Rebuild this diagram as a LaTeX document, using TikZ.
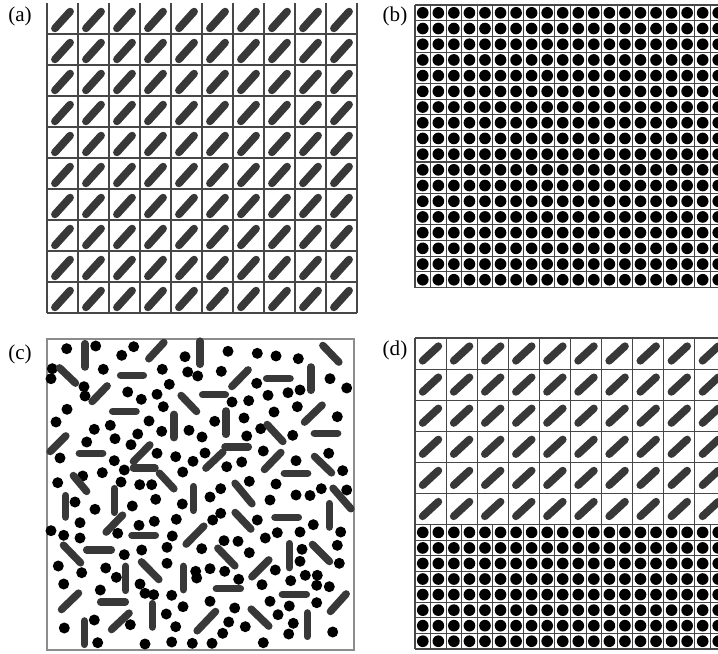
\documentclass[tikz,border=0pt]{standalone}
\usepackage{fontspec}
\setmainfont{Liberation Serif}
\tikzstyle{cellline} = [draw=black!72, line width=0.32mm]
\tikzstyle{framec} = [draw=black!45, line width=0.35mm]
\tikzstyle{rodA} = [draw=black!78, line width=2.3mm, line cap=round]
\tikzstyle{rodC} = [draw=black!78, line width=2.25mm, line cap=round, shorten <=0.5mm, shorten >=0.5mm]
\tikzstyle{bead} = [fill=black]
\tikzstyle{panellabel} = [font=\fontsize{18}{20}\selectfont, inner sep=0pt]

\begin{document}
\begin{tikzpicture}[x=0.3mm, y=-0.3mm]
  \useasboundingbox (0,0) rectangle (718,654);
  \clip (0,0) rectangle (718,654);

  % (a) aligned rods
  \foreach \i in {0,...,10} \draw[cellline] ({47+31*\i},3) -- ({47+31*\i},313);
  \foreach \j in {1,...,10} \draw[cellline] (47,{3+31*\j}) -- (357,{3+31*\j});
  \foreach \i in {0,...,9}
    \foreach \j in {0,...,9}
      \draw[rodA] ({62.5+31*\i-7.6},{20+31*\j+8.4}) -- ++(15.2,-16.8);

  % (b) square lattice of spheres
  \foreach \i in {0,...,20} \draw[cellline] ({415+15.55*\i},5) -- ({415+15.55*\i},{5+15.7*18});
  \foreach \j in {0,...,18} \draw[cellline] (415,{5+15.7*\j}) -- (726,{5+15.7*\j});
  \foreach \i in {0,...,19}
    \foreach \j in {0,...,17}
      \fill[bead] ({415+15.55*\i+7.78},{5+15.7*\j+7.85}) circle (1.75mm);

  % (c) disordered mixture
  \draw[framec] (47,339) rectangle (354,650);
  \foreach \x/\y in {66.7/348.7, 95.7/346, 121.7/355.3, 133.7/346.7, 185/356.7, 52.3/368.7, 51/378.7,
      103.3/369.3, 162.3/369.3, 187.7/372, 197.7/376, 169.3/384.3, 84/386.7, 85/396, 127.7/392,
      141.3/399.3, 157/394.3, 163.3/406.7, 67/409.3, 56/422, 149/421, 110.3/425.3, 94.3/429.3,
      137.7/434, 161.7/431.3, 189/430.3, 202/437, 115/438.7, 86.7/442, 131/444.7, 60/458,
      114.3/460.7, 157/453.3, 175.7/456.7, 193/461.3, 205/453, 124.3/470, 102.3/472.7, 82.7/476,
      182.7/472, 57.7/482.7, 121/482, 139.7/484.7, 151.7/484.7,
      228/351.3, 257.3/353.3, 276/356, 298.3/358.7, 221.3/371.3, 256.7/383.3, 330/378.7,
      346.7/388, 268/395.3, 288/392.7, 300/390, 232/402, 248.7/400.7, 297.3/406.7, 274/412,
      214.7/421.3, 244/418, 337.3/416.7, 260.7/428.7, 246.7/436, 292.7/435.3, 263.3/451,
      328.7/453.3, 226.7/466.7, 241.7/462, 296/460.7, 342.7/470.7, 249.3/481.3, 276/484,
      220.7/488.7, 296/495, 310/495.5, 321.3/488.7, 346.7/490,
      75/502, 95/509.3, 132.3/506, 155.7/499.3, 182.3/504, 51/530.7, 63.7/535.3, 80/522.7,
      80/538, 139/525.3, 154.3/521.3, 176.3/519.3, 117.7/533.3, 172.3/536, 167/547.3,
      201.7/548.7, 124.3/554.7, 141.7/550, 58.3/566, 81.7/572.7, 105.7/568, 116.3/577.3,
      167/563.3, 195.7/571.3, 196.7/578, 63.7/584, 100.3/590, 140/584, 145/593.3, 153.7/594.7,
      171.7/595.3, 183/606.7, 166.3/614, 94.3/620, 130.3/624.7, 175.7/626.7, 64.3/628,
      97.7/642.7, 145/644, 171.7/642, 192.3/643.3,
      210/497, 220.7/513.3, 212.7/520, 270/500, 257.3/520, 265.3/538, 277.3/532.7, 313.3/524.7,
      300/532, 340.7/532, 224/540.7, 238/541.3, 249.3/552.7, 302/549.3, 337.3/545.3, 300/561.3,
      339.3/563.3, 210/568.7, 224.7/571.3, 238.7/579.3, 275.3/570, 262/584.7, 290.7/580.7,
      305.3/575.3, 317.3/575.3, 316.7/585.3, 329.3/586.7, 210/601.3, 270/601.3, 289.3/606,
      316.7/602.7, 234.7/608, 278/614.7, 228.7/622, 245.3/626.7, 293.3/623.3, 288.7/634,
      222.7/633.3, 332.7/632, 212/643.3, 263.3/642.7}
    \fill[bead] (\x,\y) circle (1.65mm);
  \foreach \xa/\ya/\xb/\yb in {85/342/85/368.7, 147.7/360/165/341.3, 200/339.5/200/366,
      58.3/366.7/76.7/384.3, 119/375.3/145/375.3, 91/402.7/108.3/384.7, 180/394.3/197.7/412.7,
      201/394.7/227/394.7, 111/411.3/137.7/411.3, 174/412.7/174/439.3, 49/452.7/67/434.7,
      77.7/453.3/104.3/453.3, 132.3/462.7/151/443.7, 131.7/468/156.7/468, 158.3/472/175/490,
      72.3/474.3/87.7/492.7, 114.3/487/114.3/514, 193.5/485/193.5/512,
      321.7/344.3/340/363.3, 230.7/387.7/249.3/368.7, 265/378.7/291.7/378.7, 311/365.3/311/392,
      303.3/423.3/323.3/404, 226/409.3/226/436, 266/423.3/284/442.7, 312.7/433.3/339.3/433.3,
      223.3/447/250/447, 204.7/469.3/224/451, 263.3/470.7/282/451.3, 313.3/455.3/332.7/474,
      282.7/473.3/309.3/473.3, 234/482/253/505, 332/487/352/510,
      65.7/494/65.7/518.7, 105/533.3/123.7/514, 130.3/535.3/157/535.3, 185/545.3/205/525,
      62.3/544/81.7/564, 85/550/113/550, 125.7/564.7/125.7/592, 140.3/560.7/160/580.7,
      183.3/564.7/183.3/591.3, 60.3/610.7/79.7/592, 99/602/127/602, 152.3/602/152.3/628.7,
      110.3/630.7/130.3/612, 84.3/619.3/84.3/646, 196/632/216.7/610.3,
      273.3/517.3/300/517.3, 329.3/502/329.3/528.7, 234/511.3/252/530.3, 289.3/542/289.3/569.3,
      311.3/543.3/330.7/562.7, 216.7/547/236/567, 250.7/578/270/558.7, 214.7/588.7/242/588.7,
      280.7/594.3/308/594.3, 329.3/612.7/347.3/592.7, 250/608/270/627.3, 307.3/611.3/307.3/638}
    \draw[rodC] (\xa,\ya) -- (\xb,\yb);

  % (d) rods on top, spheres below
  \foreach \i in {0,...,10} \draw[cellline] ({415+31.1*\i},338) -- ({415+31.1*\i},524.6);
  \foreach \j in {0,...,5} \draw[cellline] (415,{338+31.1*\j}) -- (726,{338+31.1*\j});
  \foreach \i in {0,...,9}
    \foreach \j in {0,...,5}
      \draw[rodA] ({430.5+31.1*\i-7.9},{353.5+31.1*\j+7.3}) -- ++(15.8,-14.6);
  \foreach \i in {0,...,20} \draw[cellline] ({415+15.55*\i},524.6) -- ({415+15.55*\i},649);
  \foreach \j in {0,...,8} \draw[cellline] (415,{524.6+15.55*\j}) -- (726,{524.6+15.55*\j});
  \foreach \i in {0,...,19}
    \foreach \j in {0,...,7}
      \fill[bead] ({415+15.55*\i+7.78},{524.6+15.55*\j+7.78}) circle (1.75mm);

  % labels
  \node[panellabel] (laba) at (20,16) {(a)};
  \node[panellabel] (labb) at (395,16) {(b)};
  \node[panellabel] (labc) at (20,354) {(c)};
  \node[panellabel] (labd) at (395,350) {(d)};
\end{tikzpicture}
\end{document}
